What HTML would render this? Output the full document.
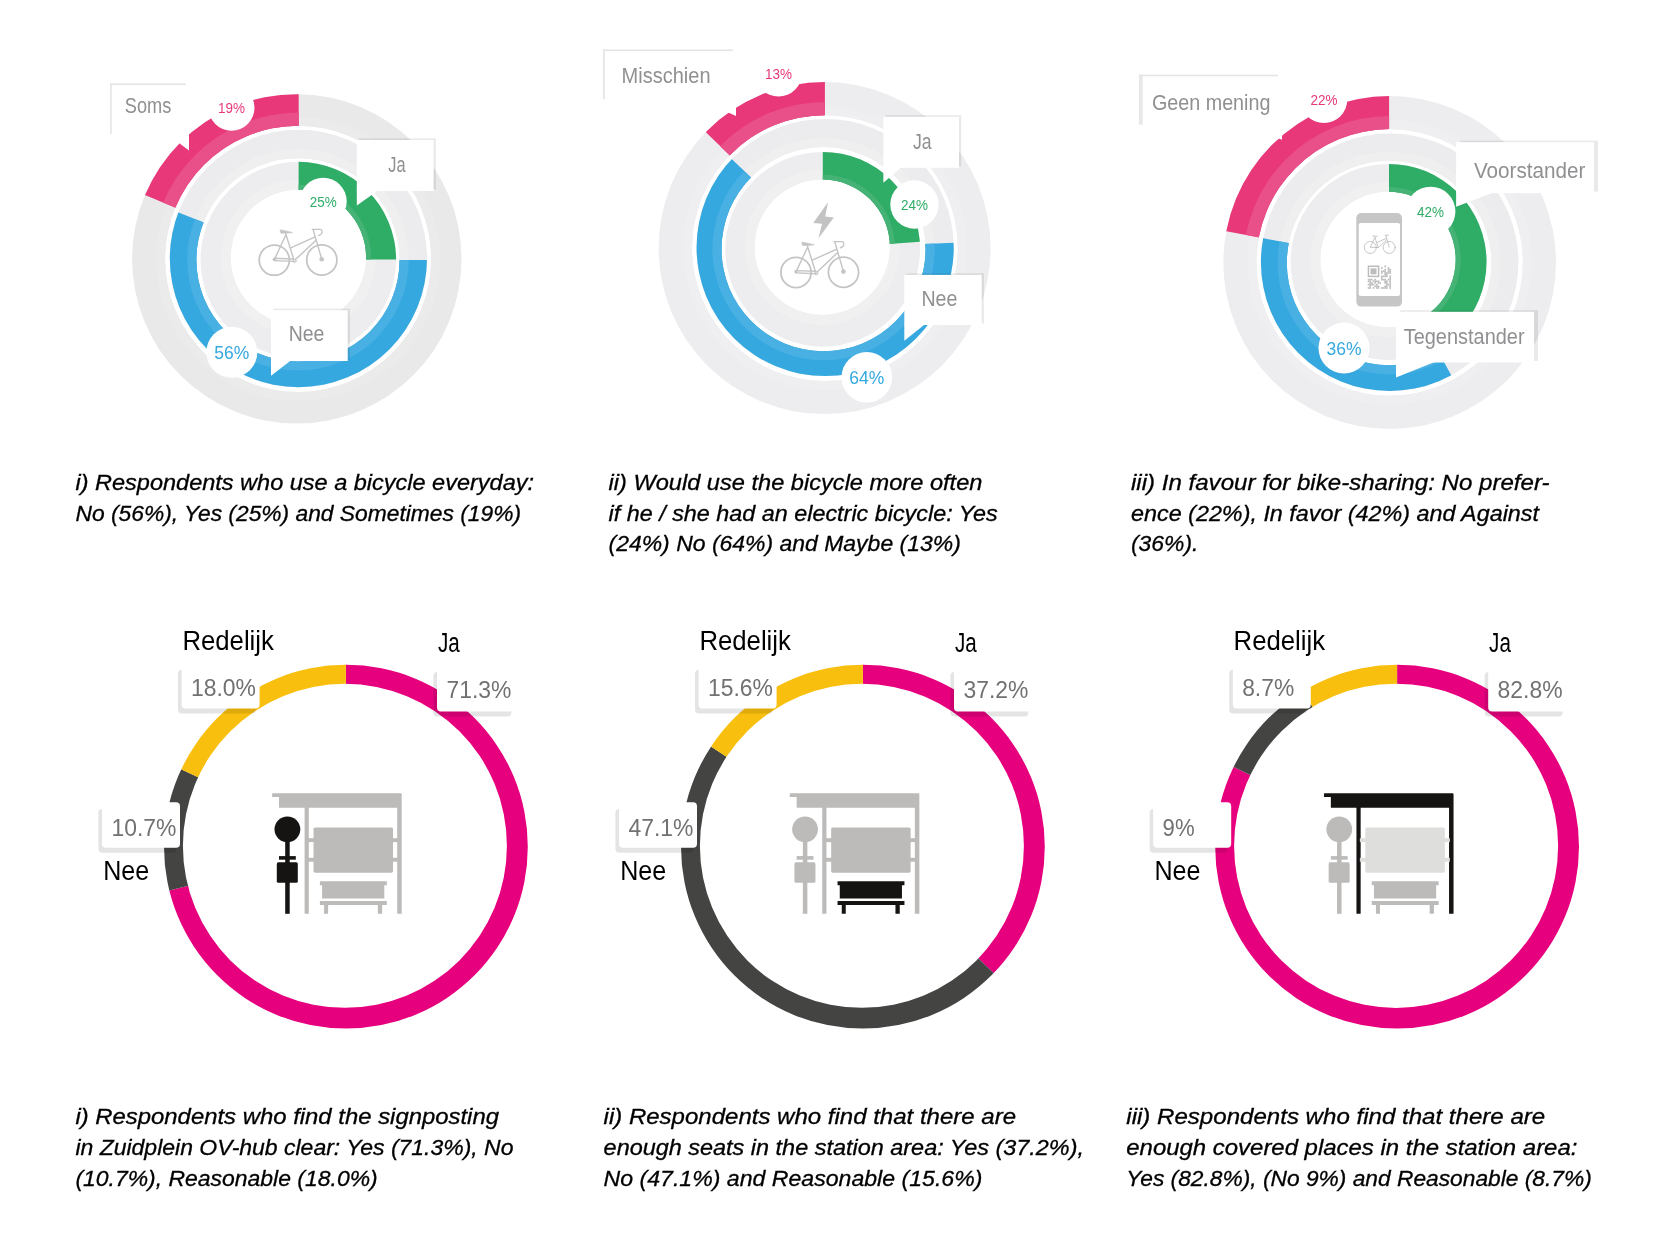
<!DOCTYPE html>
<html><head><meta charset="utf-8"><title>Survey results</title>
<style>html,body{margin:0;padding:0;background:#fff}body{width:1667px;height:1250px;overflow:hidden;font-family:"Liberation Sans",sans-serif}svg{display:block;will-change:transform}</style></head>
<body>
<svg width="1667" height="1250" viewBox="0 0 1667 1250" font-family="'Liberation Sans', sans-serif">
<rect width="1667" height="1250" fill="#fff"/>
<clipPath id="k1"><path clip-rule="evenodd" d="M132.1 258.9A164.7 164.7 0 1 1 461.5 258.9A164.7 164.7 0 1 1 132.1 258.9ZM165.05 258.9A133.1 133.1 0 1 0 431.25 258.9A133.1 133.1 0 1 0 165.05 258.9Z"/></clipPath>
<g clip-path="url(#k1)">
<rect x="131.1" y="93.2" width="331.4" height="331.4" fill="#e9e9e9"/>
<circle cx="298.15" cy="258.9" r="142.1" fill="#ebebeb"/>
<clipPath id="k2"><path d="M141.34 193.45A170.7 170.7 0 0 1 298.7 88.9L298.7 134.5A125.1 125.1 0 0 0 183.37 211.12Z" fill="#000" /></clipPath>
<g clip-path="url(#k2)"><rect x="131.1" y="93.2" width="331.4" height="331.4" fill="#e8387a"/><circle cx="298.15" cy="258.9" r="146.3" fill="#e94f89"/></g>
</g>
<clipPath id="k3"><path clip-rule="evenodd" d="M169.8 258.5A128.6 128.6 0 1 1 427 258.5A128.6 128.6 0 1 1 169.8 258.5ZM196.4 259.8A101.6 101.6 0 1 0 399.6 259.8A101.6 101.6 0 1 0 196.4 259.8Z"/></clipPath>
<g clip-path="url(#k3)">
<rect x="168.8" y="128.9" width="259.2" height="259.2" fill="#ececee"/>
<circle cx="298" cy="259.8" r="110.6" fill="#efeff0"/>
<clipPath id="k4"><path d="M433.3 260A134.6 134.6 0 1 1 173.55 210.45L211.67 225.54A93.6 93.6 0 1 0 392.3 260Z" fill="#000" /></clipPath>
<g clip-path="url(#k4)"><rect x="168.8" y="128.9" width="259.2" height="259.2" fill="#35a8e0"/><circle cx="298" cy="259.8" r="110.8" fill="#48b0e3"/></g>
</g>
<clipPath id="k5"><path clip-rule="evenodd" d="M200.5 259.6A97.8 97.8 0 1 1 396.1 259.6A97.8 97.8 0 1 1 200.5 259.6ZM230.7 257.4A67.7 67.7 0 1 0 366.1 257.4A67.7 67.7 0 1 0 230.7 257.4Z"/></clipPath>
<g clip-path="url(#k5)">
<rect x="199.5" y="160.8" width="197.6" height="197.6" fill="#ededef"/>
<circle cx="298.4" cy="257.4" r="77.7" fill="#f0f0f1"/>
<clipPath id="k6"><path d="M298.6 155.7A103.8 103.8 0 0 1 402.4 259.5L358.3 259.5A59.7 59.7 0 0 0 298.6 199.8Z" fill="#000" /></clipPath>
<g clip-path="url(#k6)"><rect x="199.5" y="160.8" width="197.6" height="197.6" fill="#2fac66"/><circle cx="298.4" cy="257.4" r="72.7" fill="#45b375"/></g>
</g>
<circle cx="231.5" cy="107.7" r="23" fill="#fff"/>
<text x="231.5" y="113.07" font-size="15" fill="#e8387a" text-anchor="middle" textLength="27" lengthAdjust="spacingAndGlyphs">19%</text>
<circle cx="323.2" cy="201.3" r="23.5" fill="#fff"/>
<text x="323.2" y="206.67" font-size="15" fill="#2fac66" text-anchor="middle" textLength="27" lengthAdjust="spacingAndGlyphs">25%</text>
<circle cx="231.8" cy="352.3" r="25.5" fill="#fff"/>
<text x="231.8" y="358.99" font-size="18.7" fill="#35a8e0" text-anchor="middle" textLength="35" lengthAdjust="spacingAndGlyphs">56%</text>
<rect x="111" y="84.5" width="78" height="49.5" fill="#fff"/>
<path d="M189 133L189 150.6L165.6 133Z" fill="#fff"/>
<rect x="110.06" y="83.5" width="1.7" height="50.7" fill="#e7e7e7"/>
<rect x="110.06" y="83.5" width="76" height="1.6" fill="#e4e4e4"/>
<text x="124.8" y="112.8" font-size="21.5" fill="#909093" text-anchor="start" textLength="46.5" lengthAdjust="spacingAndGlyphs">Soms</text>
<rect x="359.03" y="138.4" width="76.8" height="51" fill="#000" fill-opacity="0.085"/>
<rect x="356.8" y="140" width="76.8" height="51" fill="#fff"/>
<path d="M356.8 190L356.8 205.6L378.8 190Z" fill="#fff"/>
<text x="388.2" y="171.9" font-size="21.5" fill="#909093" text-anchor="start" textLength="17.3" lengthAdjust="spacingAndGlyphs">Ja</text>
<rect x="273.22" y="308.6" width="76.7" height="50.8" fill="#000" fill-opacity="0.085"/>
<rect x="271" y="310.2" width="76.7" height="50.8" fill="#fff"/>
<path d="M271 360L271 375.8L291.5 360Z" fill="#fff"/>
<text x="288.7" y="341.2" font-size="21.5" fill="#909093" text-anchor="start" textLength="35.7" lengthAdjust="spacingAndGlyphs">Nee</text>
<g transform="translate(0 0)" fill="none" stroke="#c4c4c4" stroke-width="1.4" stroke-linecap="round" stroke-linejoin="round">
<circle cx="274.3" cy="260.1" r="15.1" stroke-width="1.75"/><circle cx="321.8" cy="259.9" r="15.1" stroke-width="1.75"/>
<circle cx="274.3" cy="259.4" r="1.7" fill="#c4c4c4" stroke="none"/><circle cx="321.7" cy="259.3" r="2.3" fill="#c4c4c4" stroke="none"/>
<path d="M285.5 233L293.8 259.5M285.6 235.5L274.8 258.6M274.3 258.3L294 259M274.3 260.6L294.5 261.4M291.2 247.6L314.6 237.1M295.4 259.6L315.5 240.7M313.1 229.6L321.8 259.3"/>
<path d="M312.2 229.3L320 229.3Q322.4 229.5 322.1 232Q321.8 234.6 318.5 235.6" stroke-width="1.26"/>
<path d="M280.3 230.3Q280.3 229.7 281.5 229.9L292.6 232.5Q288 233.4 281 233.2Q280.2 233 280.3 230.3Z" fill="#c4c4c4" stroke="#c4c4c4" stroke-width="0.6"/>
<circle cx="294.6" cy="261" r="1.6" stroke-width="0.8"/>
</g>
<clipPath id="k7"><path clip-rule="evenodd" d="M658.6 248.1A166 166 0 1 1 990.6 248.1A166 166 0 1 1 658.6 248.1ZM692 248.1A132.9 132.9 0 1 0 957.8 248.1A132.9 132.9 0 1 0 692 248.1Z"/></clipPath>
<g clip-path="url(#k7)">
<rect x="657.6" y="81.1" width="334" height="334" fill="#ededef"/>
<circle cx="824.9" cy="248.1" r="141.9" fill="#efeff1"/>
<clipPath id="k8"><path d="M701.8 128.17A172 172 0 0 1 824.9 76.3L824.9 123.4A124.9 124.9 0 0 0 735.51 161.07Z" fill="#000" /></clipPath>
<g clip-path="url(#k8)"><rect x="657.6" y="81.1" width="334" height="334" fill="#e8387a"/><circle cx="824.9" cy="248.1" r="146.1" fill="#e94f89"/></g>
</g>
<clipPath id="k9"><path clip-rule="evenodd" d="M696.55 247.5A128.6 128.6 0 1 1 953.75 247.5A128.6 128.6 0 1 1 696.55 247.5ZM721.55 249.1A102 102 0 1 0 925.55 249.1A102 102 0 1 0 721.55 249.1Z"/></clipPath>
<g clip-path="url(#k9)">
<rect x="695.55" y="117.9" width="259.2" height="259.2" fill="#ececee"/>
<circle cx="823.55" cy="249.1" r="111" fill="#efeff0"/>
<clipPath id="k10"><path d="M958.97 242.43A134.6 134.6 0 1 1 727.51 154.97L756.77 183.12A94 94 0 1 0 918.41 244.2Z" fill="#000" /></clipPath>
<g clip-path="url(#k10)"><rect x="695.55" y="117.9" width="259.2" height="259.2" fill="#35a8e0"/><circle cx="823.55" cy="249.1" r="111.2" fill="#48b0e3"/></g>
</g>
<clipPath id="k11"><path clip-rule="evenodd" d="M725.35 249.3A97.4 97.4 0 1 1 920.15 249.3A97.4 97.4 0 1 1 725.35 249.3ZM754.5 247.2A67.7 67.7 0 1 0 889.9 247.2A67.7 67.7 0 1 0 754.5 247.2Z"/></clipPath>
<g clip-path="url(#k11)">
<rect x="724.35" y="150.9" width="196.8" height="196.8" fill="#ededef"/>
<circle cx="822.2" cy="247.2" r="77.7" fill="#f0f0f1"/>
<clipPath id="k12"><path d="M822.8 145.2A103.4 103.4 0 0 1 925.95 241.39L882.35 244.44A59.7 59.7 0 0 0 822.8 188.9Z" fill="#000" /></clipPath>
<g clip-path="url(#k12)"><rect x="724.35" y="150.9" width="196.8" height="196.8" fill="#2fac66"/><circle cx="822.2" cy="247.2" r="72.7" fill="#45b375"/></g>
</g>
<circle cx="778.5" cy="73.2" r="23.4" fill="#fff"/>
<text x="778.5" y="78.57" font-size="15" fill="#e8387a" text-anchor="middle" textLength="27" lengthAdjust="spacingAndGlyphs">13%</text>
<circle cx="914.5" cy="204.5" r="24.2" fill="#fff"/>
<text x="914.5" y="209.87" font-size="15" fill="#2fac66" text-anchor="middle" textLength="27" lengthAdjust="spacingAndGlyphs">24%</text>
<circle cx="866.8" cy="377.3" r="25.3" fill="#fff"/>
<text x="866.8" y="383.99" font-size="18.7" fill="#35a8e0" text-anchor="middle" textLength="35" lengthAdjust="spacingAndGlyphs">64%</text>
<rect x="604" y="50.5" width="132" height="48.5" fill="#fff"/>
<path d="M736 98L736 116L696.4 98Z" fill="#fff"/>
<rect x="602.9" y="49.5" width="2" height="49.7" fill="#e7e7e7"/>
<rect x="602.9" y="49.5" width="130" height="1.6" fill="#e4e4e4"/>
<text x="621.6" y="82.8" font-size="21.5" fill="#909093" text-anchor="start" textLength="89" lengthAdjust="spacingAndGlyphs">Misschien</text>
<rect x="885.59" y="115.2" width="75.6" height="51" fill="#000" fill-opacity="0.085"/>
<rect x="883.4" y="116.8" width="75.6" height="51" fill="#fff"/>
<path d="M883.4 166.8L883.4 182.8L901.9 166.8Z" fill="#fff"/>
<text x="912.9" y="148.8" font-size="21.5" fill="#909093" text-anchor="start" textLength="18.6" lengthAdjust="spacingAndGlyphs">Ja</text>
<rect x="906.54" y="273.3" width="77.4" height="50.1" fill="#000" fill-opacity="0.085"/>
<rect x="904.3" y="274.9" width="77.4" height="50.1" fill="#fff"/>
<path d="M904.3 324L904.3 340.8L925.3 324Z" fill="#fff"/>
<text x="921.4" y="305.7" font-size="21.5" fill="#909093" text-anchor="start" textLength="36" lengthAdjust="spacingAndGlyphs">Nee</text>
<g transform="translate(521.7 12.3)" fill="none" stroke="#c4c4c4" stroke-width="1.4" stroke-linecap="round" stroke-linejoin="round">
<circle cx="274.3" cy="260.1" r="15.1" stroke-width="1.75"/><circle cx="321.8" cy="259.9" r="15.1" stroke-width="1.75"/>
<circle cx="274.3" cy="259.4" r="1.7" fill="#c4c4c4" stroke="none"/><circle cx="321.7" cy="259.3" r="2.3" fill="#c4c4c4" stroke="none"/>
<path d="M285.5 233L293.8 259.5M285.6 235.5L274.8 258.6M274.3 258.3L294 259M274.3 260.6L294.5 261.4M291.2 247.6L314.6 237.1M295.4 259.6L315.5 240.7M313.1 229.6L321.8 259.3"/>
<path d="M312.2 229.3L320 229.3Q322.4 229.5 322.1 232Q321.8 234.6 318.5 235.6" stroke-width="1.26"/>
<path d="M280.3 230.3Q280.3 229.7 281.5 229.9L292.6 232.5Q288 233.4 281 233.2Q280.2 233 280.3 230.3Z" fill="#c4c4c4" stroke="#c4c4c4" stroke-width="0.6"/>
<circle cx="294.6" cy="261" r="1.6" stroke-width="0.8"/>
</g>
<path d="M828 202.2L813.2 223L822 223.8L818.4 238.6L833.8 217.4L825.2 216.6Z" fill="#c3c3c3"/>
<clipPath id="k13"><path clip-rule="evenodd" d="M1223.35 262.5A166.3 166.3 0 1 1 1555.95 262.5A166.3 166.3 0 1 1 1223.35 262.5ZM1256.45 262.4A133.2 133.2 0 1 0 1522.85 262.4A133.2 133.2 0 1 0 1256.45 262.4Z"/></clipPath>
<g clip-path="url(#k13)">
<rect x="1222.35" y="95.2" width="334.6" height="334.6" fill="#ededef"/>
<circle cx="1389.65" cy="262.4" r="142.2" fill="#efeff1"/>
<clipPath id="k14"><path d="M1219.85 230.01A172.3 172.3 0 0 1 1389.1 90L1389.1 137.1A125.2 125.2 0 0 0 1266.12 238.84Z" fill="#000" /></clipPath>
<g clip-path="url(#k14)"><rect x="1222.35" y="95.2" width="334.6" height="334.6" fill="#e8387a"/><circle cx="1389.65" cy="262.4" r="146.4" fill="#e94f89"/></g>
</g>
<clipPath id="k15"><path clip-rule="evenodd" d="M1260.9 262.25A128.75 128.75 0 1 1 1518.4 262.25A128.75 128.75 0 1 1 1260.9 262.25ZM1286.8 263A102.3 102.3 0 1 0 1491.4 263A102.3 102.3 0 1 0 1286.8 263Z"/></clipPath>
<g clip-path="url(#k15)">
<rect x="1259.9" y="132.5" width="259.5" height="259.5" fill="#ececee"/>
<circle cx="1389.1" cy="263" r="111.3" fill="#efeff0"/>
<clipPath id="k16"><path d="M1454.12 380.38A134.75 134.75 0 0 1 1256.84 237.05L1296.57 244.63A94.3 94.3 0 0 0 1434.63 344.94Z" fill="#000" /></clipPath>
<g clip-path="url(#k16)"><rect x="1259.9" y="132.5" width="259.5" height="259.5" fill="#35a8e0"/><circle cx="1389.1" cy="263" r="111.5" fill="#48b0e3"/></g>
</g>
<clipPath id="k17"><path clip-rule="evenodd" d="M1290.55 261.9A98 98 0 1 1 1486.55 261.9A98 98 0 1 1 1290.55 261.9ZM1320.3 259.6A67.7 67.7 0 1 0 1455.7 259.6A67.7 67.7 0 1 0 1320.3 259.6Z"/></clipPath>
<g clip-path="url(#k17)">
<rect x="1289.55" y="162.9" width="198" height="198" fill="#ededef"/>
<circle cx="1388" cy="259.6" r="77.7" fill="#f0f0f1"/>
<clipPath id="k18"><path d="M1389 158A104 104 0 0 1 1439.1 353.14L1417.76 314.32A59.7 59.7 0 0 0 1389 202.3Z" fill="#000" /></clipPath>
<g clip-path="url(#k18)"><rect x="1289.55" y="162.9" width="198" height="198" fill="#2fac66"/><circle cx="1388" cy="259.6" r="72.7" fill="#45b375"/></g>
</g>
<circle cx="1323.9" cy="99.6" r="23.4" fill="#fff"/>
<text x="1323.9" y="104.97" font-size="15" fill="#e8387a" text-anchor="middle" textLength="27" lengthAdjust="spacingAndGlyphs">22%</text>
<circle cx="1430.6" cy="211.5" r="24.8" fill="#fff"/>
<text x="1430.6" y="216.87" font-size="15" fill="#2fac66" text-anchor="middle" textLength="27" lengthAdjust="spacingAndGlyphs">42%</text>
<circle cx="1344" cy="348" r="25.5" fill="#fff"/>
<text x="1344" y="354.69" font-size="18.7" fill="#35a8e0" text-anchor="middle" textLength="35" lengthAdjust="spacingAndGlyphs">36%</text>
<rect x="1141" y="75.7" width="141" height="48.8" fill="#fff"/>
<path d="M1282 123.5L1282 139.7L1239.7 123.5Z" fill="#fff"/>
<rect x="1138.98" y="74.7" width="3.67" height="50" fill="#e7e7e7"/>
<rect x="1138.98" y="74.7" width="139" height="1.6" fill="#e4e4e4"/>
<text x="1152" y="110.2" font-size="21.5" fill="#909093" text-anchor="start" textLength="118.4" lengthAdjust="spacingAndGlyphs">Geen mening</text>
<rect x="1460.1" y="140.6" width="137.9" height="51" fill="#000" fill-opacity="0.085"/>
<rect x="1456.1" y="142.2" width="137.9" height="51" fill="#fff"/>
<path d="M1456.1 192.2L1456.1 206.7L1494.1 192.2Z" fill="#fff"/>
<text x="1473.9" y="177.7" font-size="21.5" fill="#909093" text-anchor="start" textLength="111.5" lengthAdjust="spacingAndGlyphs">Voorstander</text>
<rect x="1400" y="310.2" width="138" height="50.7" fill="#000" fill-opacity="0.085"/>
<rect x="1396" y="311.8" width="138" height="50.7" fill="#fff"/>
<path d="M1396 361.5L1396 377.5L1436 361.5Z" fill="#fff"/>
<text x="1403.7" y="343.8" font-size="21.5" fill="#909093" text-anchor="start" textLength="120.9" lengthAdjust="spacingAndGlyphs">Tegenstander</text>
<rect x="1356.3" y="213" width="45.7" height="93.6" rx="5" fill="#c6c6c6"/>
<rect x="1358.7" y="223" width="41.3" height="73" rx="2" fill="#fff"/>
<g transform="translate(1370.3 247.5) scale(0.398) translate(-274.3 -260.1)" fill="none" stroke="#b4b4b4" stroke-width="1.9" stroke-linecap="round">
<circle cx="274.3" cy="260.1" r="15.1"/><circle cx="321.8" cy="259.9" r="15.1"/>
<path d="M285.5 233L293.8 259.5M285.6 235.5L274.8 258.6M274.3 259.4L294 260.2M291.2 247.6L314.6 237.1M295.4 259.6L315.5 240.7M313.1 229.6L321.8 259.3M312.2 229.3L320 229.3M280.3 231L292 232"/>
</g>
<g fill="#bcbcbc">
<rect x="1367.7" y="265.5" width="11.65" height="11.65"/>
<rect x="1369.2" y="267" width="8.65" height="8.65" fill="#fff"/>
<rect x="1370.53" y="268.33" width="5.99" height="5.99"/>
<rect x="1367.7" y="278.81" width="1.66" height="1.66"/>
<rect x="1367.7" y="280.48" width="1.66" height="1.66"/>
<rect x="1367.7" y="283.81" width="1.66" height="1.66"/>
<rect x="1367.7" y="287.14" width="1.66" height="1.66"/>
<rect x="1369.36" y="278.81" width="1.66" height="1.66"/>
<rect x="1369.36" y="280.48" width="1.66" height="1.66"/>
<rect x="1369.36" y="282.14" width="1.66" height="1.66"/>
<rect x="1369.36" y="283.81" width="1.66" height="1.66"/>
<rect x="1369.36" y="285.47" width="1.66" height="1.66"/>
<rect x="1369.36" y="287.14" width="1.66" height="1.66"/>
<rect x="1371.03" y="278.81" width="1.66" height="1.66"/>
<rect x="1371.03" y="282.14" width="1.66" height="1.66"/>
<rect x="1371.03" y="283.81" width="1.66" height="1.66"/>
<rect x="1372.69" y="280.48" width="1.66" height="1.66"/>
<rect x="1372.69" y="283.81" width="1.66" height="1.66"/>
<rect x="1372.69" y="287.14" width="1.66" height="1.66"/>
<rect x="1374.36" y="278.81" width="1.66" height="1.66"/>
<rect x="1374.36" y="280.48" width="1.66" height="1.66"/>
<rect x="1374.36" y="282.14" width="1.66" height="1.66"/>
<rect x="1374.36" y="285.47" width="1.66" height="1.66"/>
<rect x="1376.02" y="280.48" width="1.66" height="1.66"/>
<rect x="1376.02" y="283.81" width="1.66" height="1.66"/>
<rect x="1376.02" y="285.47" width="1.66" height="1.66"/>
<rect x="1376.02" y="287.14" width="1.66" height="1.66"/>
<rect x="1377.69" y="280.48" width="1.66" height="1.66"/>
<rect x="1377.69" y="282.14" width="1.66" height="1.66"/>
<rect x="1377.69" y="285.47" width="1.66" height="1.66"/>
<rect x="1377.69" y="287.14" width="1.66" height="1.66"/>
<rect x="1379.35" y="282.14" width="1.66" height="1.66"/>
<rect x="1381.01" y="267.16" width="1.66" height="1.66"/>
<rect x="1381.01" y="270.49" width="1.66" height="1.66"/>
<rect x="1381.01" y="272.16" width="1.66" height="1.66"/>
<rect x="1381.01" y="275.49" width="1.66" height="1.66"/>
<rect x="1381.01" y="277.15" width="1.66" height="1.66"/>
<rect x="1381.01" y="278.81" width="1.66" height="1.66"/>
<rect x="1381.01" y="287.14" width="1.66" height="1.66"/>
<rect x="1382.68" y="270.49" width="1.66" height="1.66"/>
<rect x="1382.68" y="275.49" width="1.66" height="1.66"/>
<rect x="1382.68" y="278.81" width="1.66" height="1.66"/>
<rect x="1382.68" y="287.14" width="1.66" height="1.66"/>
<rect x="1384.34" y="265.5" width="1.66" height="1.66"/>
<rect x="1384.34" y="268.83" width="1.66" height="1.66"/>
<rect x="1384.34" y="270.49" width="1.66" height="1.66"/>
<rect x="1384.34" y="272.16" width="1.66" height="1.66"/>
<rect x="1384.34" y="273.82" width="1.66" height="1.66"/>
<rect x="1384.34" y="275.49" width="1.66" height="1.66"/>
<rect x="1384.34" y="278.81" width="1.66" height="1.66"/>
<rect x="1384.34" y="280.48" width="1.66" height="1.66"/>
<rect x="1384.34" y="282.14" width="1.66" height="1.66"/>
<rect x="1384.34" y="285.47" width="1.66" height="1.66"/>
<rect x="1384.34" y="287.14" width="1.66" height="1.66"/>
<rect x="1386.01" y="272.16" width="1.66" height="1.66"/>
<rect x="1386.01" y="273.82" width="1.66" height="1.66"/>
<rect x="1386.01" y="275.49" width="1.66" height="1.66"/>
<rect x="1386.01" y="280.48" width="1.66" height="1.66"/>
<rect x="1386.01" y="282.14" width="1.66" height="1.66"/>
<rect x="1386.01" y="283.81" width="1.66" height="1.66"/>
<rect x="1386.01" y="285.47" width="1.66" height="1.66"/>
<rect x="1386.01" y="287.14" width="1.66" height="1.66"/>
<rect x="1387.67" y="267.16" width="1.66" height="1.66"/>
<rect x="1387.67" y="268.83" width="1.66" height="1.66"/>
<rect x="1387.67" y="270.49" width="1.66" height="1.66"/>
<rect x="1387.67" y="272.16" width="1.66" height="1.66"/>
<rect x="1387.67" y="278.81" width="1.66" height="1.66"/>
<rect x="1387.67" y="283.81" width="1.66" height="1.66"/>
<rect x="1389.34" y="268.83" width="1.66" height="1.66"/>
<rect x="1389.34" y="270.49" width="1.66" height="1.66"/>
<rect x="1389.34" y="272.16" width="1.66" height="1.66"/>
<rect x="1389.34" y="275.49" width="1.66" height="1.66"/>
<rect x="1389.34" y="277.15" width="1.66" height="1.66"/>
<rect x="1389.34" y="278.81" width="1.66" height="1.66"/>
<rect x="1389.34" y="280.48" width="1.66" height="1.66"/>
<rect x="1389.34" y="282.14" width="1.66" height="1.66"/>
<rect x="1389.34" y="283.81" width="1.66" height="1.66"/>
<rect x="1389.34" y="285.47" width="1.66" height="1.66"/>
<rect x="1389.34" y="287.14" width="1.66" height="1.66"/>
</g>
<text stroke="#000" stroke-width="0.3" x="75.5" y="489.8" font-size="22.2" fill="#000" text-anchor="start" textLength="458.5" lengthAdjust="spacingAndGlyphs" font-style="italic">i) Respondents who use a bicycle everyday:</text>
<text stroke="#000" stroke-width="0.3" x="75.5" y="520.5" font-size="22.2" fill="#000" text-anchor="start" textLength="445.5" lengthAdjust="spacingAndGlyphs" font-style="italic">No (56%), Yes (25%) and Sometimes (19%)</text>
<text stroke="#000" stroke-width="0.3" x="608.5" y="489.8" font-size="22.2" fill="#000" text-anchor="start" textLength="373.9" lengthAdjust="spacingAndGlyphs" font-style="italic">ii) Would use the bicycle more often</text>
<text stroke="#000" stroke-width="0.3" x="608.5" y="520.5" font-size="22.2" fill="#000" text-anchor="start" textLength="389.2" lengthAdjust="spacingAndGlyphs" font-style="italic">if he / she had an electric bicycle: Yes</text>
<text stroke="#000" stroke-width="0.3" x="608.5" y="551.4" font-size="22.2" fill="#000" text-anchor="start" textLength="352.3" lengthAdjust="spacingAndGlyphs" font-style="italic">(24%) No (64%) and Maybe (13%)</text>
<text stroke="#000" stroke-width="0.3" x="1131" y="489.8" font-size="22.2" fill="#000" text-anchor="start" textLength="418.5" lengthAdjust="spacingAndGlyphs" font-style="italic">iii) In favour for bike-sharing: No prefer-</text>
<text stroke="#000" stroke-width="0.3" x="1131" y="520.5" font-size="22.2" fill="#000" text-anchor="start" textLength="408" lengthAdjust="spacingAndGlyphs" font-style="italic">ence (22%), In favor (42%) and Against</text>
<text stroke="#000" stroke-width="0.3" x="1131" y="551.4" font-size="22.2" fill="#000" text-anchor="start" textLength="67.4" lengthAdjust="spacingAndGlyphs" font-style="italic">(36%).</text>
<text stroke="#000" stroke-width="0.3" x="75.4" y="1123.7" font-size="22.2" fill="#000" text-anchor="start" textLength="423.6" lengthAdjust="spacingAndGlyphs" font-style="italic">i) Respondents who find the signposting</text>
<text stroke="#000" stroke-width="0.3" x="75.4" y="1154.7" font-size="22.2" fill="#000" text-anchor="start" textLength="438.1" lengthAdjust="spacingAndGlyphs" font-style="italic">in Zuidplein OV-hub clear: Yes (71.3%), No</text>
<text stroke="#000" stroke-width="0.3" x="75.4" y="1185.8" font-size="22.2" fill="#000" text-anchor="start" textLength="302.3" lengthAdjust="spacingAndGlyphs" font-style="italic">(10.7%), Reasonable (18.0%)</text>
<text stroke="#000" stroke-width="0.3" x="603.6" y="1123.7" font-size="22.2" fill="#000" text-anchor="start" textLength="412.4" lengthAdjust="spacingAndGlyphs" font-style="italic">ii) Respondents who find that there are</text>
<text stroke="#000" stroke-width="0.3" x="603.6" y="1154.7" font-size="22.2" fill="#000" text-anchor="start" textLength="480.4" lengthAdjust="spacingAndGlyphs" font-style="italic">enough seats in the station area: Yes (37.2%),</text>
<text stroke="#000" stroke-width="0.3" x="603.6" y="1185.8" font-size="22.2" fill="#000" text-anchor="start" textLength="378.8" lengthAdjust="spacingAndGlyphs" font-style="italic">No (47.1%) and Reasonable (15.6%)</text>
<text stroke="#000" stroke-width="0.3" x="1126.3" y="1123.7" font-size="22.2" fill="#000" text-anchor="start" textLength="418.9" lengthAdjust="spacingAndGlyphs" font-style="italic">iii) Respondents who find that there are</text>
<text stroke="#000" stroke-width="0.3" x="1126.3" y="1154.7" font-size="22.2" fill="#000" text-anchor="start" textLength="451.1" lengthAdjust="spacingAndGlyphs" font-style="italic">enough covered places in the station area:</text>
<text stroke="#000" stroke-width="0.3" x="1126.3" y="1185.8" font-size="22.2" fill="#000" text-anchor="start" textLength="465.5" lengthAdjust="spacingAndGlyphs" font-style="italic">Yes (82.8%), (No 9%) and Reasonable (8.7%)</text>
<clipPath id="rc0"><path clip-rule="evenodd" d="M164 846.7A181.9 181.9 0 1 1 527.8 846.7A181.9 181.9 0 1 1 164 846.7ZM182.9 845.85A162 162 0 1 0 506.9 845.85A162 162 0 1 0 182.9 845.85Z"/></clipPath>
<g clip-path="url(#rc0)">
<path d="M345.9 662.8A183.9 183.9 0 1 1 167.39 890.88L192.53 884.66A158 158 0 1 0 345.9 688.7Z" fill="#e6007e" />
<path d="M167.39 890.88A183.9 183.9 0 0 1 179.5 768.4L202.94 779.43A158 158 0 0 0 192.53 884.66Z" fill="#444443" />
<path d="M179.5 768.4A183.9 183.9 0 0 1 345.9 662.8L345.9 688.7A158 158 0 0 0 202.94 779.43Z" fill="#f9bf0e" />
</g>
<g transform="translate(0 0)">
<path d="M272.1 794Q272.1 793.2 272.9 793.2L400.7 793.2Q401.7 793.2 401.7 794.2L401.7 913.8L397.2 913.8L397.2 807.8L308.8 807.8L308.8 913.8L304.6 913.8L304.6 807.8L279.6 807.8Q279 807.8 279 807.2L279 797L272.1 797Z" fill="#bcbbba"/>
<rect x="308" y="838.2" width="6.5" height="3.9" fill="#bcbbba"/><rect x="392" y="838.2" width="6" height="3.9" fill="#bcbbba"/>
<rect x="308" y="857.8" width="6.5" height="3.9" fill="#bcbbba"/><rect x="392" y="857.8" width="6" height="3.9" fill="#bcbbba"/>
<rect x="313.5" y="827.6" width="79.5" height="45.1" rx="1.6" fill="#bcbbba"/>
<path d="M319.9 881.3H386.8V885.3H384.3V898.5H322.1V885.3H319.9Z" fill="#bcbbba"/>
<path d="M319.9 900.9H386.8V904.9H382.1V913.8H377.8V904.9H328.1V913.8H324.1V904.9H319.9Z" fill="#bcbbba"/>
<circle cx="287.4" cy="829.3" r="12.9" fill="#161413"/>
<rect x="285.2" y="838" width="4.5" height="75.8" fill="#161413"/>
<rect x="279" y="856.1" width="16.8" height="3.6" fill="#161413"/>
<rect x="276.8" y="862.3" width="21" height="20.5" rx="1.6" fill="#161413"/>
</g>
<text x="182.4" y="649.8" font-size="27" fill="#000" text-anchor="start" textLength="91.5" lengthAdjust="spacingAndGlyphs">Redelijk</text>
<text x="437.9" y="651.5" font-size="27" fill="#000" text-anchor="start" textLength="21.8" lengthAdjust="spacingAndGlyphs">Ja</text>
<text x="103.2" y="879.7" font-size="27" fill="#000" text-anchor="start" textLength="46" lengthAdjust="spacingAndGlyphs">Nee</text>
<rect x="178" y="669.7" width="78" height="43.9" rx="4" fill="#000" fill-opacity="0.105"/>
<rect x="181.6" y="663" width="78" height="45.6" rx="4" fill="#fff"/>
<text x="191" y="696.4" font-size="24.2" fill="#727171" text-anchor="start" textLength="65" lengthAdjust="spacingAndGlyphs">18.0%</text>
<rect x="433.4" y="672.1" width="78" height="44.4" rx="4" fill="#000" fill-opacity="0.105"/>
<rect x="437" y="665.4" width="78" height="46.1" rx="4" fill="#fff"/>
<text x="446.4" y="698.4" font-size="24.2" fill="#727171" text-anchor="start" textLength="65" lengthAdjust="spacingAndGlyphs">71.3%</text>
<rect x="98.4" y="809" width="78" height="43.8" rx="4" fill="#000" fill-opacity="0.105"/>
<rect x="102" y="802.3" width="78" height="45.5" rx="4" fill="#fff"/>
<text x="111.4" y="835.6" font-size="24.2" fill="#727171" text-anchor="start" textLength="65" lengthAdjust="spacingAndGlyphs">10.7%</text>
<clipPath id="rc517"><path clip-rule="evenodd" d="M681 846.7A181.9 181.9 0 1 1 1044.8 846.7A181.9 181.9 0 1 1 681 846.7ZM699.9 845.85A162 162 0 1 0 1023.9 845.85A162 162 0 1 0 699.9 845.85Z"/></clipPath>
<g clip-path="url(#rc517)">
<path d="M862.9 662.8A183.9 183.9 0 0 1 995.07 974.57L976.45 956.56A158 158 0 0 0 862.9 688.7Z" fill="#e6007e" />
<path d="M995.07 974.57A183.9 183.9 0 0 1 709.37 745.47L730.99 759.72A158 158 0 0 0 976.45 956.56Z" fill="#444443" />
<path d="M709.37 745.47A183.9 183.9 0 0 1 862.9 662.8L862.9 688.7A158 158 0 0 0 730.99 759.72Z" fill="#f9bf0e" />
</g>
<g transform="translate(517.65 0)">
<path d="M272.1 794Q272.1 793.2 272.9 793.2L400.7 793.2Q401.7 793.2 401.7 794.2L401.7 913.8L397.2 913.8L397.2 807.8L308.8 807.8L308.8 913.8L304.6 913.8L304.6 807.8L279.6 807.8Q279 807.8 279 807.2L279 797L272.1 797Z" fill="#bcbbba"/>
<rect x="308" y="838.2" width="6.5" height="3.9" fill="#bcbbba"/><rect x="392" y="838.2" width="6" height="3.9" fill="#bcbbba"/>
<rect x="308" y="857.8" width="6.5" height="3.9" fill="#bcbbba"/><rect x="392" y="857.8" width="6" height="3.9" fill="#bcbbba"/>
<rect x="313.5" y="827.6" width="79.5" height="45.1" rx="1.6" fill="#bcbbba"/>
<path d="M319.9 881.3H386.8V885.3H384.3V898.5H322.1V885.3H319.9Z" fill="#161413"/>
<path d="M319.9 900.9H386.8V904.9H382.1V913.8H377.8V904.9H328.1V913.8H324.1V904.9H319.9Z" fill="#161413"/>
<circle cx="287.4" cy="829.3" r="12.9" fill="#bcbbba"/>
<rect x="285.2" y="838" width="4.5" height="75.8" fill="#bcbbba"/>
<rect x="279" y="856.1" width="16.8" height="3.6" fill="#bcbbba"/>
<rect x="276.8" y="862.3" width="21" height="20.5" rx="1.6" fill="#bcbbba"/>
</g>
<text x="699.4" y="649.8" font-size="27" fill="#000" text-anchor="start" textLength="91.5" lengthAdjust="spacingAndGlyphs">Redelijk</text>
<text x="954.9" y="651.5" font-size="27" fill="#000" text-anchor="start" textLength="21.8" lengthAdjust="spacingAndGlyphs">Ja</text>
<text x="620.2" y="879.7" font-size="27" fill="#000" text-anchor="start" textLength="46" lengthAdjust="spacingAndGlyphs">Nee</text>
<rect x="695" y="669.7" width="78" height="43.9" rx="4" fill="#000" fill-opacity="0.105"/>
<rect x="698.6" y="663" width="78" height="45.6" rx="4" fill="#fff"/>
<text x="708" y="696.4" font-size="24.2" fill="#727171" text-anchor="start" textLength="65" lengthAdjust="spacingAndGlyphs">15.6%</text>
<rect x="950.4" y="672.1" width="78" height="44.4" rx="4" fill="#000" fill-opacity="0.105"/>
<rect x="954" y="665.4" width="78" height="46.1" rx="4" fill="#fff"/>
<text x="963.4" y="698.4" font-size="24.2" fill="#727171" text-anchor="start" textLength="65" lengthAdjust="spacingAndGlyphs">37.2%</text>
<rect x="615.4" y="809" width="78" height="43.8" rx="4" fill="#000" fill-opacity="0.105"/>
<rect x="619" y="802.3" width="78" height="45.5" rx="4" fill="#fff"/>
<text x="628.4" y="835.6" font-size="24.2" fill="#727171" text-anchor="start" textLength="65" lengthAdjust="spacingAndGlyphs">47.1%</text>
<clipPath id="rc1051"><path clip-rule="evenodd" d="M1215.2 846.7A181.9 181.9 0 1 1 1579 846.7A181.9 181.9 0 1 1 1215.2 846.7ZM1234.1 845.85A162 162 0 1 0 1558.1 845.85A162 162 0 1 0 1234.1 845.85Z"/></clipPath>
<g clip-path="url(#rc1051)">
<path d="M1397.1 662.8A183.9 183.9 0 1 1 1231.81 766.08L1255.09 777.44A158 158 0 1 0 1397.1 688.7Z" fill="#e6007e" />
<path d="M1231.81 766.08A183.9 183.9 0 0 1 1301.93 689.34L1315.34 711.5A158 158 0 0 0 1255.09 777.44Z" fill="#444443" />
<path d="M1301.93 689.34A183.9 183.9 0 0 1 1397.1 662.8L1397.1 688.7A158 158 0 0 0 1315.34 711.5Z" fill="#f9bf0e" />
</g>
<g transform="translate(1051.85 0)">
<path d="M272.1 794Q272.1 793.2 272.9 793.2L400.7 793.2Q401.7 793.2 401.7 794.2L401.7 913.8L397.2 913.8L397.2 807.8L308.8 807.8L308.8 913.8L304.6 913.8L304.6 807.8L279.6 807.8Q279 807.8 279 807.2L279 797L272.1 797Z" fill="#161413"/>
<rect x="308" y="838.2" width="6.5" height="3.9" fill="#dededd"/><rect x="392" y="838.2" width="6" height="3.9" fill="#dededd"/>
<rect x="308" y="857.8" width="6.5" height="3.9" fill="#dededd"/><rect x="392" y="857.8" width="6" height="3.9" fill="#dededd"/>
<rect x="313.5" y="827.6" width="79.5" height="45.1" rx="1.6" fill="#dededd"/>
<path d="M319.9 881.3H386.8V885.3H384.3V898.5H322.1V885.3H319.9Z" fill="#bcbbba"/>
<path d="M319.9 900.9H386.8V904.9H382.1V913.8H377.8V904.9H328.1V913.8H324.1V904.9H319.9Z" fill="#bcbbba"/>
<circle cx="287.4" cy="829.3" r="12.9" fill="#bcbbba"/>
<rect x="285.2" y="838" width="4.5" height="75.8" fill="#bcbbba"/>
<rect x="279" y="856.1" width="16.8" height="3.6" fill="#bcbbba"/>
<rect x="276.8" y="862.3" width="21" height="20.5" rx="1.6" fill="#bcbbba"/>
</g>
<text x="1233.6" y="649.8" font-size="27" fill="#000" text-anchor="start" textLength="91.5" lengthAdjust="spacingAndGlyphs">Redelijk</text>
<text x="1489.1" y="651.5" font-size="27" fill="#000" text-anchor="start" textLength="21.8" lengthAdjust="spacingAndGlyphs">Ja</text>
<text x="1154.4" y="879.7" font-size="27" fill="#000" text-anchor="start" textLength="46" lengthAdjust="spacingAndGlyphs">Nee</text>
<rect x="1229.2" y="669.7" width="78" height="43.9" rx="4" fill="#000" fill-opacity="0.105"/>
<rect x="1232.8" y="663" width="78" height="45.6" rx="4" fill="#fff"/>
<text x="1242.2" y="696.4" font-size="24.2" fill="#727171" text-anchor="start" textLength="52" lengthAdjust="spacingAndGlyphs">8.7%</text>
<rect x="1484.6" y="672.1" width="78" height="44.4" rx="4" fill="#000" fill-opacity="0.105"/>
<rect x="1488.2" y="665.4" width="78" height="46.1" rx="4" fill="#fff"/>
<text x="1497.6" y="698.4" font-size="24.2" fill="#727171" text-anchor="start" textLength="65" lengthAdjust="spacingAndGlyphs">82.8%</text>
<rect x="1149.6" y="809" width="78" height="43.8" rx="4" fill="#000" fill-opacity="0.105"/>
<rect x="1153.2" y="802.3" width="78" height="45.5" rx="4" fill="#fff"/>
<text x="1162.6" y="835.6" font-size="24.2" fill="#727171" text-anchor="start" textLength="32" lengthAdjust="spacingAndGlyphs">9%</text>
</svg>
</body></html>
